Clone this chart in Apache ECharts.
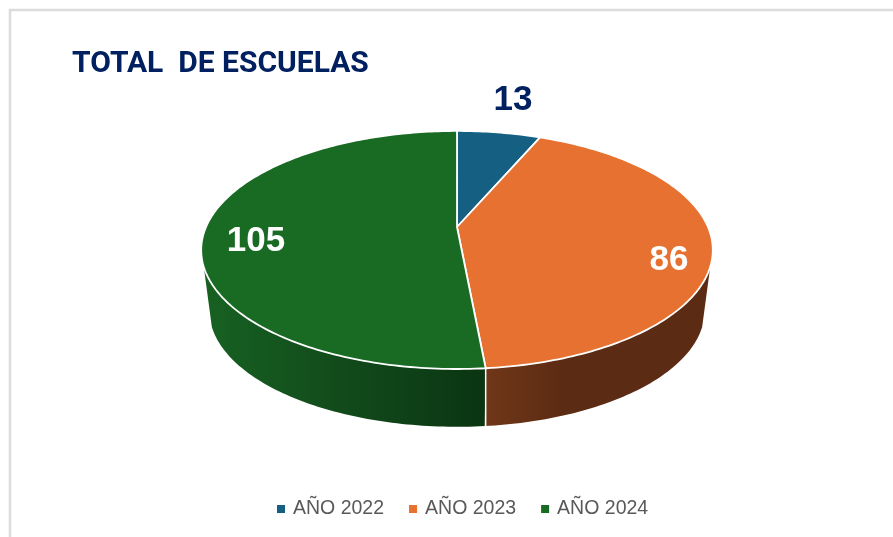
<!DOCTYPE html>
<html>
<head>
<meta charset="utf-8">
<style>html,body{margin:0;padding:0;background:#fff}#c{width:893px;height:537px}</style>
<script src="https://cdn.jsdelivr.net/npm/echarts@6/dist/echarts.min.js"></script>
</head>
<body>
<div id="c"></div>
<script>
const categories = ['AÑO 2022', 'AÑO 2023', 'AÑO 2024'];
const schoolCounts = [13, 86, 105];
const chartTitle = 'TOTAL  DE ESCUELAS';

const colors = ['#156082', '#E67130', '#196B24'];
const wallStops = [
  null,
  [[0, '#703718'], [0.35, '#5C2B13'], [1, '#5C2B13']],
  [[0, '#176122'], [0.5, '#124A1B'], [1, '#0A3512']]
];
const labelColors = ['#002060', '#ffffff', '#ffffff'];
const labelOffsets = [[56, -127], [212, 33], [-201, 14]];

const topDisc = { cx: 457, cy: 227, rx: 251, ry: 114.6, k: 0.193 };
const baseDisc = { cx: 457, cy: 288, rx: 243, ry: 112, k: 0.193 };
const wallFrom = 109, wallTo = 251;
const total = schoolCounts.reduce((a, b) => a + b, 0);

function project(d, deg) {
  const t = deg * Math.PI / 180, s = Math.sin(t), c = Math.cos(t), w = 1 + d.k * c;
  return [d.cx + d.rx * s / w, d.cy - d.ry * c / w];
}
function arc(d, a, b) {
  const pts = [], n = Math.max(2, Math.ceil(Math.abs(b - a)));
  for (let i = 0; i <= n; i++) pts.push(project(d, a + (b - a) * i / n));
  return pts;
}
function sliceRenderer(idx) {
  return function (params, api) {
    const before = schoolCounts.slice(0, idx).reduce((a, b) => a + b, 0);
    const a0 = before / total * 360;
    const a1 = a0 + api.value(0) / total * 360;
    const children = [];
    const wa = Math.max(a0, wallFrom), wb = Math.min(a1, wallTo);
    if (wb > wa) {
      const top = arc(topDisc, wa, wb), base = arc(baseDisc, wa, wb);
      const pts = top.concat(base.slice().reverse());
      const xs = pts.map(p => p[0]);
      const x0 = Math.min.apply(null, xs), x1 = Math.max.apply(null, xs);
      const leftToRight = wallStops[idx];
      children.push({
        type: 'polygon', z2: 1, shape: { points: pts },
        style: {
          fill: {
            type: 'linear', global: true, x: x0, y: 0, x2: x1, y2: 0,
            colorStops: leftToRight.map(s => ({ offset: s[0], color: s[1] }))
          }, stroke: null
        }
      });
      if (a0 >= wallFrom && a0 <= wallTo) {
        const p = project(topDisc, a0), q = project(baseDisc, a0);
        children.push({
          type: 'line', z2: 2,
          shape: { x1: p[0], y1: p[1], x2: p[0], y2: q[1] },
          style: { stroke: '#ffffff', lineWidth: 1.5 }
        });
      }
    }
    const rim = arc(topDisc, a0, a1);
    children.push({
      type: 'polygon', z2: 3,
      shape: { points: [[topDisc.cx, topDisc.cy]].concat(rim) },
      style: { fill: colors[idx], stroke: '#ffffff', lineWidth: 1.8, lineJoin: 'round' }
    });
    children.push({
      type: 'text', z2: 4,
      x: topDisc.cx + labelOffsets[idx][0], y: topDisc.cy + labelOffsets[idx][1],
      style: {
        text: String(api.value(0)), fill: labelColors[idx], align: 'center', verticalAlign: 'middle',
        font: 'bold 35px "Liberation Sans", Arial, sans-serif'
      }
    });
    return { type: 'group', children };
  };
}

const chart = echarts.init(document.getElementById('c'), null, { renderer: 'canvas' });
chart.setOption({
  animation: false,
  backgroundColor: '#ffffff',
  title: {
    text: chartTitle, left: 67, top: 44,
    textStyle: { color: '#002060', fontFamily: 'Roboto, sans-serif', fontWeight: 'bold', fontSize: 30 }
  },
  legend: {
    data: categories, left: 272, top: 494, icon: 'rect', itemWidth: 8, itemHeight: 8, itemGap: 25,
    textStyle: { color: '#595959', fontFamily: '"Liberation Sans", Arial, sans-serif', fontSize: 19.5, padding: [0, 0, 0, 3] }
  },
  graphic: [{
    type: 'rect', z: -1, silent: true,
    shape: { x: 10, y: 10, width: 1000, height: 700 },
    style: { fill: 'none', stroke: '#dcdcdc', lineWidth: 2.5 }
  }],
  series: categories.map((name, i) => ({
    name, type: 'custom', coordinateSystem: 'none',
    itemStyle: { color: colors[i] },
    renderItem: sliceRenderer(i),
    data: [[schoolCounts[i]]]
  }))
});
</script>
</body>
</html>
